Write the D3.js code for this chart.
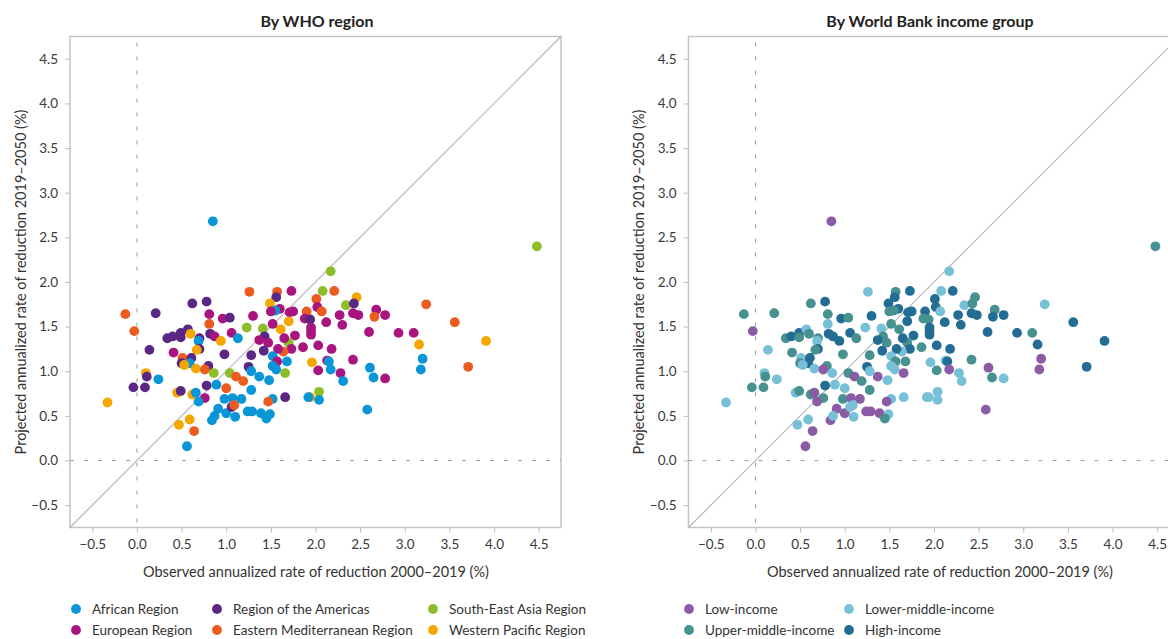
<!DOCTYPE html>
<html>
<head>
<meta charset="utf-8">
<script src="https://cdn.jsdelivr.net/npm/d3@7"></script>
<style>
  body { margin: 0; background: #fff; }
  svg { display: block; font-family: Lato, "Noto Sans", sans-serif; }
</style>
</head>
<body>
<svg id="chart" width="1168" height="639"></svg>
<script>
// Annualized rate of reduction per country: observed 2000–2019 vs projected 2019–2050 (%)
const observed = [
  0.85, 4.48, -0.33, -0.13, -0.03, 0.56,
  1.26, 0.21, 0.62, 0.78, 0.81, 0.96, 1.04, 0.81, 0.82, 0.87, 1.06, 0.94, 1.13, 1.23,
  1.30, 0.34, 0.40, 0.49, 0.49, 0.57, 0.60, 0.70, 0.69, 0.70, 0.67, 0.14, 0.41, 0.98,
  0.51, 0.61, 0.50, 0.59, 0.53, 0.66, 0.80, 0.76, 0.86, 1.04, 1.11, 1.19, 1.25, 1.28,
  0.10, 0.11, 0.24, -0.04, 0.09, 0.78, 0.89, 1.00, 1.28, 0.45, 0.49, 0.62, 0.66, 0.76,
  0.69, 0.98, 1.07, 1.17, 0.91, 1.00, 1.06, 1.09, 1.10, 0.84, 0.87, 1.24, 1.29, 0.47,
  0.59, 0.64, 1.28,
  1.57, 1.56, 1.73, 2.17, 2.08, 2.21, 2.01, 2.46, 2.34, 2.43, 3.24, 1.49, 1.60, 1.55,
  1.50, 1.71, 1.75, 1.90, 2.02, 2.07, 1.88, 1.94, 1.70, 2.12, 2.27, 2.30, 2.42, 2.48,
  2.68, 2.66, 2.78, 1.95, 1.95, 1.95, 1.77, 1.61, 1.41, 1.52, 1.43, 1.37, 1.47, 1.70,
  1.65, 2.60, 2.93, 3.10, 3.16, 2.03, 2.18, 1.86, 1.73, 1.64, 1.58, 1.42, 1.52, 1.68,
  1.57, 1.52, 1.56, 1.96, 2.13, 2.15, 2.17, 2.03, 2.28, 2.42, 2.61, 2.65, 2.78, 3.20,
  3.18, 2.31, 1.66, 1.37, 1.48, 2.04, 1.94, 1.92, 2.04, 1.66, 1.52, 1.47, 1.39, 1.49,
  1.45, 2.58, 3.56, 3.91, 3.71
];
const projected = [
  2.68, 2.40, 0.65, 1.64, 1.45, 0.16,
  1.89, 1.65, 1.76, 1.78, 1.64, 1.59, 1.60, 1.53, 1.42, 1.39, 1.43, 1.34, 1.37, 1.49,
  1.62, 1.37, 1.39, 1.43, 1.38, 1.47, 1.42, 1.37, 1.34, 1.25, 1.24, 1.24, 1.21, 1.19,
  1.15, 1.15, 1.09, 1.09, 1.07, 1.03, 1.06, 1.02, 0.98, 0.98, 0.94, 0.89, 1.05, 1.18,
  0.98, 0.94, 0.91, 0.82, 0.82, 0.84, 0.85, 0.81, 0.79, 0.76, 0.78, 0.74, 0.76, 0.70,
  0.66, 0.69, 0.70, 0.69, 0.58, 0.53, 0.60, 0.62, 0.49, 0.45, 0.50, 0.55, 0.55, 0.40,
  0.46, 0.33, 1.00,
  1.89, 1.83, 1.90, 2.12, 1.90, 1.90, 1.81, 1.83, 1.74, 1.76, 1.75, 1.76, 1.70, 1.68,
  1.67, 1.66, 1.67, 1.67, 1.72, 1.67, 1.59, 1.58, 1.56, 1.55, 1.63, 1.52, 1.65, 1.63,
  1.69, 1.61, 1.63, 1.49, 1.45, 1.41, 1.40, 1.47, 1.48, 1.53, 1.39, 1.35, 1.32, 1.32,
  1.37, 1.44, 1.43, 1.43, 1.30, 1.29, 1.25, 1.27, 1.25, 1.22, 1.25, 1.23, 1.17, 1.11,
  1.11, 1.06, 1.02, 1.10, 1.12, 1.11, 1.02, 1.01, 0.98, 1.13, 1.04, 0.93, 0.92, 1.14,
  1.02, 0.89, 0.98, 0.94, 0.90, 0.77, 0.71, 0.71, 0.68, 0.71, 0.69, 0.66, 0.53, 0.52,
  0.47, 0.57, 1.55, 1.34, 1.05
];
const whoRegion = [
  "AFR", "SEAR", "WPR", "EMR", "EMR", "AFR",
  "EMR", "AMR", "AMR", "AMR", "EUR", "EUR", "AMR", "EMR", "AMR", "EUR", "EUR", "WPR", "AFR", "SEAR",
  "EUR", "AMR", "AMR", "AMR", "AMR", "AMR", "WPR", "AMR", "AFR", "AMR", "WPR", "AMR", "EUR", "AMR",
  "EMR", "AMR", "AMR", "AFR", "WPR", "WPR", "AMR", "EMR", "SEAR", "SEAR", "EMR", "EMR", "AMR", "AMR",
  "WPR", "AMR", "AFR", "AMR", "AMR", "AMR", "AFR", "EMR", "AFR", "WPR", "AMR", "WPR", "AFR", "EUR",
  "AFR", "AFR", "AFR", "AFR", "AFR", "AFR", "AMR", "EMR", "AFR", "AFR", "AFR", "AFR", "AFR", "WPR",
  "WPR", "EMR", "AFR",
  "EMR", "AMR", "EUR", "SEAR", "SEAR", "EMR", "EMR", "WPR", "SEAR", "AMR", "EMR", "WPR", "EUR", "AFR",
  "EUR", "EUR", "EUR", "EMR", "EUR", "EMR", "EUR", "AMR", "WPR", "EUR", "EUR", "EUR", "EUR", "EUR",
  "EUR", "EMR", "EUR", "EUR", "EUR", "EUR", "EUR", "WPR", "SEAR", "EUR", "AMR", "EUR", "EUR", "SEAR",
  "EUR", "EUR", "EUR", "EUR", "WPR", "EUR", "EUR", "EUR", "EUR", "EMR", "EUR", "AMR", "AFR", "AFR",
  "EUR", "AFR", "AFR", "WPR", "EUR", "AFR", "AFR", "EUR", "EUR", "EUR", "AFR", "AFR", "EUR", "AFR",
  "AFR", "AFR", "SEAR", "AFR", "AFR", "SEAR", "WPR", "AFR", "AFR", "AMR", "AFR", "EMR", "AFR", "AFR",
  "AFR", "AFR", "EMR", "WPR", "EMR"
];
const incomeGroup = [
  "L", "UM", "LM", "UM", "L", "L",
  "LM", "UM", "UM", "H", "UM", "H", "UM", "LM", "H", "H", "H", "H", "UM", "LM",
  "H", "UM", "H", "H", "UM", "LM", "UM", "UM", "LM", "H", "UM", "LM", "UM", "UM",
  "LM", "H", "UM", "H", "LM", "LM", "UM", "L", "LM", "UM", "L", "UM", "H", "UM",
  "LM", "UM", "LM", "UM", "UM", "H", "LM", "LM", "UM", "LM", "UM", "UM", "L", "UM",
  "L", "UM", "L", "L", "L", "L", "LM", "LM", "LM", "L", "LM", "L", "L", "LM",
  "LM", "L", "LM",
  "UM", "H", "H", "LM", "LM", "H", "H", "UM", "LM", "UM", "LM", "H", "H", "UM",
  "UM", "H", "H", "H", "H", "LM", "UM", "UM", "H", "H", "H", "H", "H", "H",
  "UM", "H", "H", "H", "H", "H", "H", "UM", "LM", "UM", "UM", "H", "UM", "UM",
  "H", "H", "H", "UM", "H", "H", "H", "UM", "H", "LM", "H", "H", "LM", "UM",
  "UM", "LM", "LM", "LM", "LM", "H", "L", "UM", "LM", "UM", "L", "UM", "LM", "L",
  "L", "LM", "L", "L", "LM", "LM", "LM", "LM", "LM", "LM", "LM", "L", "L", "LM",
  "UM", "L", "H", "H", "H"
];

const regionKeys = ["AFR", "AMR", "SEAR", "EUR", "EMR", "WPR"];
const regionNames = ["African Region", "Region of the Americas", "South-East Asia Region",
                     "European Region", "Eastern Mediterranean Region", "Western Pacific Region"];
const incomeKeys = ["L", "LM", "UM", "H"];
const incomeNames = ["Low-income", "Lower-middle-income", "Upper-middle-income", "High-income"];
const axisTicks = [-0.5, 0, 0.5, 1, 1.5, 2, 2.5, 3, 3.5, 4, 4.5];
const panelTitles = ["By WHO region", "By World Bank income group"];
const xTitle = "Observed annualized rate of reduction 2000\u20132019 (%)";
const yTitle = "Projected annualized rate of reduction 2019\u20132050 (%)";

// Styling
const regionColor = d3.scaleOrdinal(regionKeys,
  ["#0a96d6", "#5a2785", "#8dbd2a", "#a8157f", "#ec5b20", "#f5a700"]);
const incomeColor = d3.scaleOrdinal(incomeKeys,
  ["#8c5ba5", "#78c0d8", "#479190", "#236d94"]);

const countries = observed.map((x, i) => ({
  x, y: projected[i], region: whoRegion[i], income: incomeGroup[i]
}));

const svg = d3.select("#chart");
const plotSize = 491, plotTop = 36.5;
const domain = [-0.75, 4.75];

const panels = [
  { left: 70, key: "region", color: regionColor, keys: regionKeys, names: regionNames,
    title: panelTitles[0], titleX: 317, xTitleX: 316, yTitleX: 20,
    legendCols: [76, 217, 433], legendCount: 3 },
  { left: 688.5, key: "income", color: incomeColor, keys: incomeKeys, names: incomeNames,
    title: panelTitles[1], titleX: 930, xTitleX: 940, yTitleX: 638,
    legendCols: [689, 849], legendCount: 2 }
];

panels.forEach(p => {
  const x = d3.scaleLinear().domain(domain).range([p.left, p.left + plotSize]);
  const y = d3.scaleLinear().domain(domain).range([plotTop + plotSize, plotTop]);
  const g = svg.append("g");

  // frame
  g.append("rect")
    .attr("x", p.left).attr("y", plotTop).attr("width", plotSize).attr("height", plotSize)
    .attr("fill", "none").attr("stroke", "#c4c4c4").attr("stroke-width", 1.5);

  // axes
  const styleAxis = sel => {
    sel.select(".domain").remove();
    sel.selectAll(".tick line").attr("stroke", "#bdbdbd");
    sel.selectAll(".tick text").attr("fill", "#3a3a3a").style("font-size", "13.5px")
      .style("font-family", "Lato, 'Noto Sans', sans-serif");
  };
  g.append("g").attr("transform", `translate(0,${plotTop + plotSize})`)
    .call(d3.axisBottom(x).tickValues(axisTicks).tickSize(5).tickPadding(7).tickFormat(d3.format(".1f")))
    .call(styleAxis);
  g.append("g").attr("transform", `translate(${p.left},0)`)
    .call(d3.axisLeft(y).tickValues(axisTicks).tickSize(5).tickPadding(7).tickFormat(d3.format(".1f")))
    .call(styleAxis);

  // zero reference lines
  g.append("line")
    .attr("x1", x(0)).attr("x2", x(0)).attr("y1", plotTop + 6).attr("y2", plotTop + plotSize)
    .attr("stroke", "#9a9a9a").attr("stroke-dasharray", "4,10");
  g.append("line")
    .attr("x1", p.left).attr("x2", p.left + plotSize).attr("y1", y(0)).attr("y2", y(0))
    .attr("stroke", "#9a9a9a").attr("stroke-dasharray", "4,10");

  // line of equality
  g.append("line")
    .attr("x1", x(domain[0])).attr("y1", y(domain[0]))
    .attr("x2", x(domain[1])).attr("y2", y(domain[1]))
    .attr("stroke", "#b5b5b5").attr("stroke-width", 1.2);

  // countries
  g.append("g").selectAll("circle").data(countries).join("circle")
    .attr("cx", d => x(d.x)).attr("cy", d => y(d.y)).attr("r", 4.9)
    .attr("fill", d => p.color(d[p.key]));

  // titles
  g.append("text").attr("x", p.titleX).attr("y", 20.5).attr("text-anchor", "middle")
    .attr("dominant-baseline", "central")
    .style("font-size", "16px").style("font-weight", "bold").attr("fill", "#222")
    .text(p.title);
  g.append("text").attr("x", p.xTitleX).attr("y", 571).attr("text-anchor", "middle")
    .attr("dominant-baseline", "central")
    .style("font-size", "14.5px").attr("fill", "#333").text(xTitle);
  g.append("text").attr("transform", `translate(${p.yTitleX},${plotTop + plotSize / 2}) rotate(-90)`)
    .attr("text-anchor", "middle").attr("dominant-baseline", "central")
    .style("font-size", "14.5px").attr("fill", "#333").text(yTitle);

  // legend
  const leg = g.append("g").selectAll("g").data(p.keys).join("g")
    .attr("transform", (k, i) =>
      `translate(${p.legendCols[i % p.legendCount]},${609 + Math.floor(i / p.legendCount) * 21})`);
  leg.append("circle").attr("r", 4.9).attr("fill", k => p.color(k));
  leg.append("text").attr("x", 16).attr("dominant-baseline", "central")
    .style("font-size", "13.5px").attr("fill", "#333")
    .text((k, i) => p.names[i]);
});
</script>
</body>
</html>
